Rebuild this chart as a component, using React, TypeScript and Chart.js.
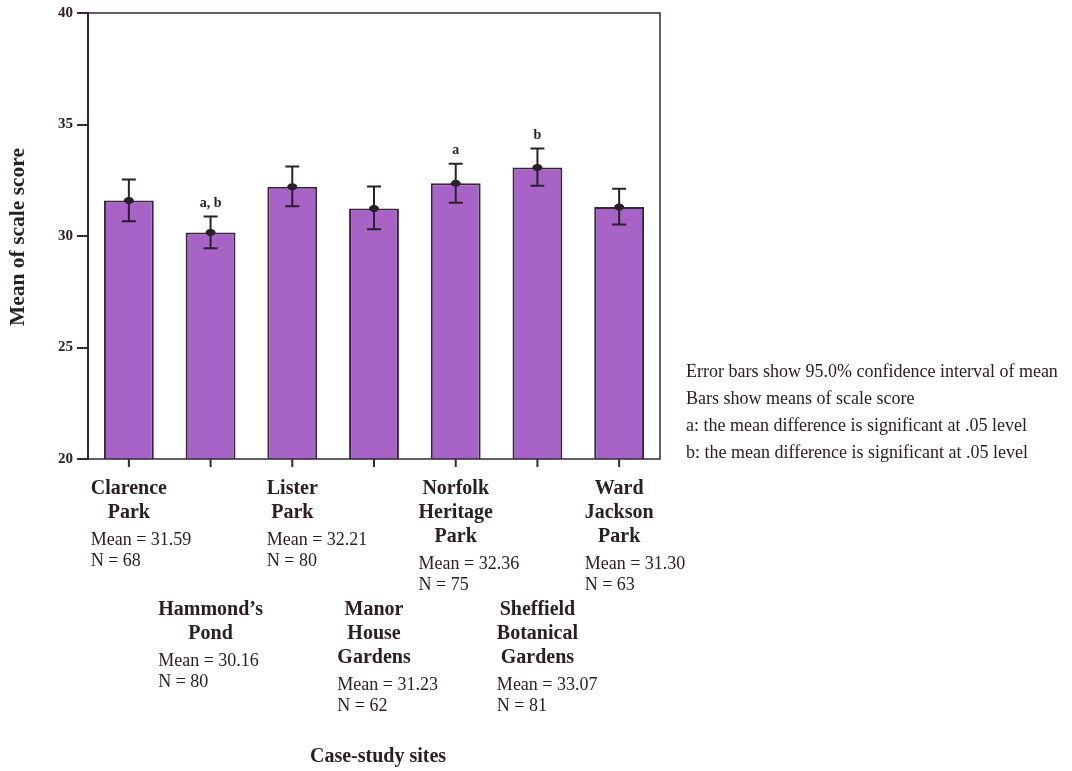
import React, { useEffect, useRef } from 'react';
import { Chart, registerables } from 'chart.js';

Chart.register(...registerables);

// ---- data ----
const siteNames: string[][] = [
  ['Clarence', 'Park'],
  ['Hammond\u2019s', 'Pond'],
  ['Lister', 'Park'],
  ['Manor', 'House', 'Gardens'],
  ['Norfolk', 'Heritage', 'Park'],
  ['Sheffield', 'Botanical', 'Gardens'],
  ['Ward', 'Jackson', 'Park'],
];
const means = [31.59, 30.16, 32.21, 31.23, 32.36, 33.07, 31.3];
const counts = [68, 80, 80, 62, 75, 81, 63];
const ciLower = [30.66, 29.45, 31.33, 30.3, 31.49, 32.25, 30.52];
const ciUpper = [32.53, 30.88, 33.12, 32.22, 33.24, 33.92, 32.12];
const sigLabels = ['', 'a, b', '', '', 'a', 'b', ''];
const yMin = 20;
const yMax = 40;
const yStep = 5;
const yTitle = 'Mean of scale score';
const xTitle = 'Case-study sites';
const notes = [
  'Error bars show 95.0% confidence interval of mean',
  'Bars show means of scale score',
  'a: the mean difference is significant at .05 level',
  'b: the mean difference is significant at .05 level',
];

const FONT = '"Liberation Serif", "Times New Roman", serif';
const INK = '#2a2024';
const LINE = '#35263a';
const BAR = '#a863c7';

const overlayPlugin = {
  id: 'overlay',
  afterDatasetsDraw(chart: any) {
    const { ctx, chartArea, scales } = chart;
    const xs = scales.x;
    const ys = scales.y;
    ctx.save();
    // frame
    ctx.strokeStyle = LINE;
    ctx.lineWidth = 1.5;
    ctx.strokeRect(chartArea.left, chartArea.top, chartArea.right - chartArea.left, chartArea.bottom - chartArea.top);

    // error bars + mean markers + significance letters
    means.forEach((m, i) => {
      const x = xs.getPixelForValue(i);
      const yt = ys.getPixelForValue(ciUpper[i]);
      const yb = ys.getPixelForValue(ciLower[i]);
      const ym = ys.getPixelForValue(m);
      ctx.strokeStyle = '#2a1f2a';
      ctx.lineWidth = 2;
      ctx.beginPath();
      ctx.moveTo(x, yt);
      ctx.lineTo(x, yb);
      ctx.moveTo(x - 7, yt);
      ctx.lineTo(x + 7, yt);
      ctx.moveTo(x - 7, yb);
      ctx.lineTo(x + 7, yb);
      ctx.stroke();
      ctx.fillStyle = '#2a1f2a';
      ctx.beginPath();
      ctx.ellipse(x, ym, 5, 3.5, 0, 0, Math.PI * 2);
      ctx.fill();
      if (sigLabels[i]) {
        ctx.font = `bold 14px ${FONT}`;
        ctx.textAlign = 'center';
        ctx.textBaseline = 'middle';
        ctx.fillStyle = INK;
        ctx.fillText(sigLabels[i], x, yt - 13);
      }
    });

    // x tick marks
    ctx.strokeStyle = LINE;
    ctx.lineWidth = 2;
    means.forEach((_, i) => {
      const x = xs.getPixelForValue(i);
      ctx.beginPath();
      ctx.moveTo(x, chartArea.bottom);
      ctx.lineTo(x, chartArea.bottom + 8);
      ctx.stroke();
    });

    // category labels, staggered in two rows
    ctx.fillStyle = INK;
    ctx.textBaseline = 'middle';
    siteNames.forEach((lines, i) => {
      const x = xs.getPixelForValue(i);
      const y0 = chartArea.bottom + (i % 2 === 0 ? 30 : 151);
      ctx.font = `bold 20px ${FONT}`;
      ctx.textAlign = 'center';
      let maxW = 0;
      lines.forEach((t, k) => {
        maxW = Math.max(maxW, ctx.measureText(t).width);
        ctx.fillText(t, x, y0 + k * 24);
      });
      const left = x - maxW / 2;
      const yStats = y0 + (lines.length - 1) * 24 + 27;
      ctx.font = `18px ${FONT}`;
      ctx.textAlign = 'left';
      ctx.fillText(`Mean = ${means[i].toFixed(2)}`, left, yStats);
      ctx.fillText(`N = ${counts[i]}`, left, yStats + 21);
    });

    // x title
    ctx.font = `bold 20px ${FONT}`;
    ctx.textAlign = 'center';
    ctx.fillText(xTitle, (chartArea.left + chartArea.right) / 2 + 4, 757);

    // y title
    ctx.save();
    ctx.translate(18, (chartArea.top + chartArea.bottom) / 2 + 1);
    ctx.rotate(-Math.PI / 2);
    ctx.font = `bold 21.5px ${FONT}`;
    ctx.textAlign = 'center';
    ctx.textBaseline = 'middle';
    ctx.fillText(yTitle, 0, 0);
    ctx.restore();

    // notes
    ctx.font = `18px ${FONT}`;
    ctx.textAlign = 'left';
    ctx.textBaseline = 'middle';
    notes.forEach((t, k) => {
      ctx.fillText(t, chartArea.right + 26, 372 + k * 27);
    });
    ctx.restore();
  },
};

export default function App() {
  const ref = useRef<HTMLCanvasElement | null>(null);
  useEffect(() => {
    if (!ref.current) return;
    const chart = new Chart(ref.current, {
      type: 'bar',
      data: {
        labels: siteNames.map((l) => l.join(' ')),
        datasets: [
          {
            data: means,
            backgroundColor: BAR,
            borderColor: LINE,
            borderWidth: 2,
            borderSkipped: false,
            barPercentage: 0.61,
            categoryPercentage: 1,
          },
        ],
      },
      options: {
        animation: false,
        responsive: false,
        maintainAspectRatio: false,
        devicePixelRatio: 1,
        layout: { padding: { left: 0, top: 13, right: 1072 - 660, bottom: 771 - 459 } },
        plugins: { legend: { display: false }, tooltip: { enabled: false }, title: { display: false } },
        scales: {
          x: {
            type: 'category',
            offset: true,
            grid: { display: false, drawTicks: false },
            ticks: { display: false },
            border: { display: false },
            afterFit: (s: any) => {
              s.height = 0;
            },
          },
          y: {
            min: yMin,
            max: yMax,
            ticks: {
              stepSize: yStep,
              color: INK,
              padding: 4,
              font: { family: FONT, weight: 'bold', size: 15 },
            },
            grid: { drawOnChartArea: false, drawTicks: true, tickLength: 11, color: LINE, lineWidth: 2 },
            border: { display: true, color: LINE, width: 2 },
            afterFit: (s: any) => {
              s.width = 88;
            },
          },
        },
      } as any,
      plugins: [overlayPlugin],
    });
    return () => chart.destroy();
  }, []);
  return (
    <div style={{ position: 'fixed', left: 0, top: 0, width: 1072, height: 771, background: '#fff' }}>
      <canvas ref={ref} width={1072} height={771} style={{ width: 1072, height: 771, display: 'block' }} />
    </div>
  );
}
